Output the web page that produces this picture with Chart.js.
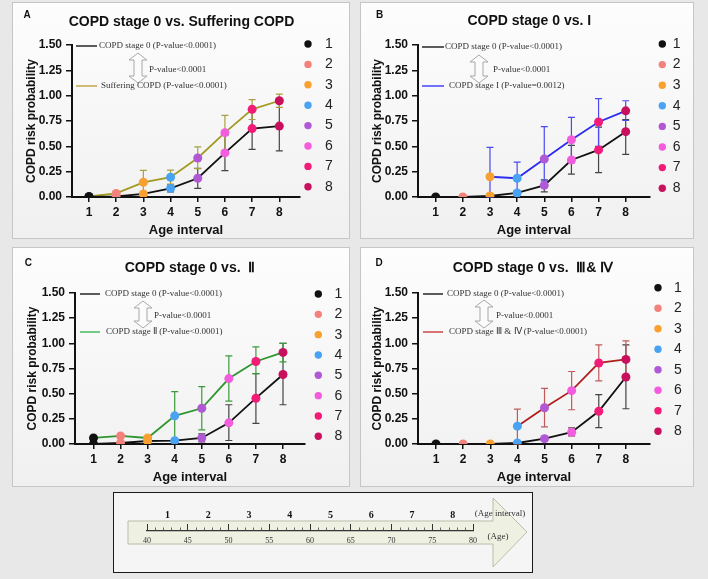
<!DOCTYPE html>
<html>
<head>
<meta charset="utf-8">
<script src="https://cdn.jsdelivr.net/npm/chart.js@4.4.0/dist/chart.umd.min.js"></script>
<style>
  body { margin: 0; width: 708px; height: 579px; overflow: hidden; position: relative; background: #e8e8e8; }
  .panel { position: absolute; box-sizing: border-box; border: 1px solid #c6c6c6; background: linear-gradient(#fdfdfd, #f0f0f0); }
  #scaleBox { position: absolute; box-sizing: border-box; left: 113px; top: 492px; width: 420px; height: 81px; border: 1.5px solid #1a1a1a; background: #f5f5f5; }
  canvas { position: absolute; }
</style>
</head>
<body>
<div class="panel" style="left:12px;top:2px;width:338px;height:237px"></div>
<div class="panel" style="left:360px;top:2px;width:334px;height:237px"></div>
<div class="panel" style="left:12px;top:247px;width:338px;height:240px"></div>
<div class="panel" style="left:360px;top:247px;width:334px;height:240px"></div>
<div id="scaleBox"></div>
<canvas id="chartA"></canvas>
<canvas id="chartB"></canvas>
<canvas id="chartC"></canvas>
<canvas id="chartD"></canvas>
<canvas id="scaleChart" width="420" height="81" style="left:113px;top:492px"></canvas>
<script>
// age intervals and their marker colours
const ageIntervals = [1, 2, 3, 4, 5, 6, 7, 8];
const intervalColors = ["#111111", "#f4827c", "#f8a030", "#4aa3f2", "#b158d4", "#f45cde", "#f31b78", "#c8105c"];
const yTicks = [0, 0.25, 0.5, 0.75, 1, 1.25, 1.5];

// A: stage 0 vs suffering COPD
const aStage0 = [0.00, 0.005, 0.03, 0.085, 0.185, 0.435, 0.675, 0.70];
const aStage0Low = [0.00, 0.00, 0.01, 0.05, 0.086, 0.26, 0.47, 0.455];
const aStage0High = [0.00, 0.01, 0.05, 0.12, 0.283, 0.61, 0.87, 0.93];
const aCopd = [0.005, 0.035, 0.145, 0.195, 0.385, 0.635, 0.865, 0.95];
const aCopdLow = [0.005, 0.02, 0.03, 0.128, 0.28, 0.46, 0.765, 0.885];
const aCopdHigh = [0.005, 0.05, 0.262, 0.266, 0.495, 0.805, 0.96, 1.015];

// B: stage 0 vs I
const bStage0 = [0.00, 0.00, 0.01, 0.04, 0.115, 0.365, 0.465, 0.645];
const bStage0Low = [0.00, 0.00, 0.00, 0.02, 0.05, 0.225, 0.24, 0.42];
const bStage0High = [0.00, 0.00, 0.03, 0.06, 0.17, 0.51, 0.69, 0.765];
const bStageI = [null, null, 0.20, 0.185, 0.375, 0.565, 0.74, 0.85];
const bStageILow = [null, null, 0.00, 0.03, 0.16, 0.34, 0.50, 0.755];
const bStageIHigh = [null, null, 0.49, 0.345, 0.695, 0.785, 0.97, 0.95];

// C: stage 0 vs II
const cStage0 = [0.00, 0.01, 0.03, 0.033, 0.06, 0.21, 0.455, 0.69];
const cStage0Low = [0.00, 0.00, 0.02, 0.02, 0.02, 0.035, 0.205, 0.39];
const cStage0High = [0.00, 0.02, 0.04, 0.05, 0.10, 0.39, 0.70, 1.00];
const cStageII = [0.06, 0.08, 0.06, 0.28, 0.355, 0.65, 0.82, 0.91];
const cStageIILow = [0.06, 0.08, 0.06, 0.03, 0.14, 0.425, 0.70, 0.815];
const cStageIIHigh = [0.06, 0.08, 0.06, 0.52, 0.57, 0.875, 0.965, 1.00];

// D: stage 0 vs III & IV
const dStage0 = [0.00, 0.00, 0.00, 0.01, 0.053, 0.117, 0.325, 0.665];
const dStage0Low = [0.00, 0.00, 0.00, 0.00, 0.03, 0.08, 0.163, 0.35];
const dStage0High = [0.00, 0.00, 0.00, 0.02, 0.075, 0.16, 0.49, 0.985];
const dStageIIIIV = [null, null, null, 0.177, 0.36, 0.53, 0.805, 0.84];
const dStageIIIIVLow = [null, null, null, 0.00, 0.17, 0.34, 0.627, 0.66];
const dStageIIIIVHigh = [null, null, null, 0.347, 0.553, 0.72, 0.985, 1.025];

// bottom age scale
const ageTicks = [40, 45, 50, 55, 60, 65, 70, 75, 80];

const SANS = "'Liberation Sans', Arial, sans-serif";
const SERIF = "'Liberation Serif', 'Times New Roman', serif";
Chart.defaults.font.family = SANS;
Chart.defaults.color = "#111";

function pts(vals) {
    return ageIntervals.map((x, i) => ({ x: x, y: vals[i] }));
}

const errorBars = {
    id: "errorBars",
    beforeDatasetsDraw(chart) {
        const { ctx, scales: { x, y } } = chart;
        chart.data.datasets.forEach(ds => {
            ctx.save();
            ctx.strokeStyle = ds.errColor;
            ctx.lineWidth = 1.2;
            ds.data.forEach((p, i) => {
                if (p.y == null || ds.errLow[i] == null) return;
                const px = x.getPixelForValue(p.x);
                const lo = y.getPixelForValue(ds.errLow[i]);
                const hi = y.getPixelForValue(ds.errHigh[i]);
                if (Math.abs(lo - hi) < 1) return;
                ctx.beginPath();
                ctx.moveTo(px, lo); ctx.lineTo(px, hi);
                ctx.moveTo(px - 3.5, lo); ctx.lineTo(px + 3.5, lo);
                ctx.moveTo(px - 3.5, hi); ctx.lineTo(px + 3.5, hi);
                ctx.stroke();
            });
            ctx.restore();
        });
    }
};

function doubleArrow(ctx, cx, top, bot) {
    const hw = 9, sw = 4, hh = 7;
    ctx.beginPath();
    ctx.moveTo(cx, top);
    ctx.lineTo(cx + hw, top + hh); ctx.lineTo(cx + sw, top + hh);
    ctx.lineTo(cx + sw, bot - hh); ctx.lineTo(cx + hw, bot - hh);
    ctx.lineTo(cx, bot);
    ctx.lineTo(cx - hw, bot - hh); ctx.lineTo(cx - sw, bot - hh);
    ctx.lineTo(cx - sw, top + hh); ctx.lineTo(cx - hw, top + hh);
    ctx.closePath();
    ctx.fillStyle = "#fbfbfb";
    ctx.fill();
    ctx.strokeStyle = "#a8a8a8";
    ctx.lineWidth = 1;
    ctx.stroke();
}

function makePanel(p) {
    const [ox, oy] = p.origin;
    const [W, H] = p.size;
    const [L, T, R, B] = p.area;
    const canvas = document.getElementById(p.id);
    canvas.width = W; canvas.height = H;
    canvas.style.left = ox + "px"; canvas.style.top = oy + "px";
    const yAxisW = 50, xAxisH = 42;

    const decor = {
        id: "decor",
        afterDraw(chart) {
            const ctx = chart.ctx;
            const a = chart.chartArea;
            ctx.save();
            ctx.textBaseline = "middle";
            ctx.fillStyle = "#111";
            ctx.textAlign = "center";
            ctx.font = "bold 14px " + SANS;
            ctx.fillText(p.title, p.titlePos[0] - ox, p.titlePos[1] - oy);
            ctx.font = "bold 10px " + SANS;
            ctx.fillText(p.letter, p.letterPos[0] - ox, p.letterPos[1] - oy);

            // interval legend
            ctx.font = "14px " + SANS;
            ageIntervals.forEach((v, i) => {
                const yy = p.legend.y0 - oy + i * p.legend.step;
                ctx.beginPath();
                ctx.arc(p.legend.dotX - ox, yy, 3.7, 0, Math.PI * 2);
                ctx.fillStyle = intervalColors[i];
                ctx.fill();
                ctx.fillStyle = "#222";
                ctx.fillText(String(v), p.legend.labelX - ox, yy);
            });

            // inset legend
            const s = p.inset;
            ctx.lineWidth = 1.6;
            ctx.strokeStyle = "#333";
            ctx.beginPath();
            ctx.moveTo(a.left + s.lx0, a.top + s.y1); ctx.lineTo(a.left + s.lx1, a.top + s.y1);
            ctx.stroke();
            ctx.strokeStyle = p.legendLine;
            ctx.beginPath();
            ctx.moveTo(a.left + s.lx0, a.top + s.y2); ctx.lineTo(a.left + s.lx1, a.top + s.y2);
            ctx.stroke();
            doubleArrow(ctx, a.left + s.ax, a.top + s.at, a.top + s.ab);
            ctx.fillStyle = "#333";
            ctx.textAlign = "left";
            ctx.font = "9px " + SERIF;
            ctx.fillText("COPD stage 0 (P-value<0.0001)", a.left + s.t1x, a.top + s.y1);
            ctx.fillText("P-value<0.0001", a.left + s.px, a.top + s.py);
            ctx.fillText(p.compText, a.left + s.t2x, a.top + s.y2);
            ctx.restore();
        }
    };

    new Chart(canvas, {
        type: "line",
        data: {
            datasets: [
                {
                    label: "COPD stage 0",
                    data: pts(p.stage0),
                    errLow: p.stage0Low, errHigh: p.stage0High, errColor: "#444",
                    borderColor: "#111", borderWidth: 1.8,
                    pointRadius: 4.5, pointBorderWidth: 0,
                    pointBackgroundColor: intervalColors
                },
                {
                    label: p.compLabel,
                    data: pts(p.comp),
                    errLow: p.compLow, errHigh: p.compHigh, errColor: p.errColor,
                    borderColor: p.color, borderWidth: 1.8,
                    pointRadius: 4.5, pointBorderWidth: 0,
                    pointBackgroundColor: intervalColors
                }
            ]
        },
        options: {
            responsive: false,
            animation: false,
            events: [],
            layout: {
                padding: { left: L - ox - yAxisW, right: ox + W - R, top: T - oy, bottom: oy + H - B - xAxisH }
            },
            plugins: { legend: { display: false }, tooltip: { enabled: false } },
            scales: {
                x: {
                    type: "linear",
                    min: p.xMin, max: p.xMax,
                    afterBuildTicks: s => { s.ticks = ageIntervals.map(v => ({ value: v })); },
                    afterFit: s => { s.height = xAxisH; },
                    grid: { drawOnChartArea: false, tickLength: 5, color: "#111", lineWidth: 1.5 },
                    border: { color: "#111", width: 2 },
                    ticks: { padding: 3, font: { size: 12, weight: "bold" }, color: "#111", maxRotation: 0, autoSkip: false },
                    title: { display: true, text: "Age interval", font: { size: 13, weight: "bold" }, color: "#111", padding: { top: 0, bottom: 1 } }
                },
                y: {
                    min: 0, max: 1.5,
                    afterBuildTicks: s => { s.ticks = yTicks.map(v => ({ value: v })); },
                    afterFit: s => { s.width = yAxisW; },
                    grid: { drawOnChartArea: false, tickLength: 6, color: "#111", lineWidth: 1.5 },
                    border: { color: "#111", width: 2 },
                    ticks: { padding: 4, font: { size: 12, weight: "bold" }, color: "#111", callback: v => v.toFixed(2) },
                    title: { display: true, text: "COPD risk probability", font: { size: 12, weight: "bold" }, color: "#111", padding: { top: p.yTitlePad, bottom: 0 } }
                }
            }
        },
        plugins: [errorBars, decor]
    });
}

makePanel({
    id: "chartA", origin: [12, 2], size: [338, 237], area: [72, 45, 300, 197],
    xMin: 0.375, xMax: 8.761, yTitlePad: 2.8,
    title: "COPD stage 0 vs. Suffering COPD", titlePos: [181.5, 21.7], letter: "A", letterPos: [27, 15],
    stage0: aStage0, stage0Low: aStage0Low, stage0High: aStage0High,
    comp: aCopd, compLow: aCopdLow, compHigh: aCopdHigh, compLabel: "Suffering COPD",
    color: "#a39a22", errColor: "#a8a040", legendLine: "#c9aa55",
    compText: "Suffering COPD (P-value<0.0001)",
    legend: { dotX: 308, labelX: 329, y0: 44, step: 20.4 },
    inset: { lx0: 4, lx1: 25, y1: 1, t1x: 27, ax: 66, at: 8, ab: 38, px: 77, py: 25, y2: 41, t2x: 29 }
});

makePanel({
    id: "chartB", origin: [360, 2], size: [334, 237], area: [418, 45, 650, 197],
    xMin: 0.348, xMax: 8.895, yTitlePad: 2.1,
    title: "COPD stage 0 vs. I", titlePos: [529.3, 20.7], letter: "B", letterPos: [379.7, 15],
    stage0: bStage0, stage0Low: bStage0Low, stage0High: bStage0High,
    comp: bStageI, compLow: bStageILow, compHigh: bStageIHigh, compLabel: "COPD stage I",
    color: "#2b2bf2", errColor: "#4a4af0", legendLine: "#4f4fff",
    compText: "COPD stage I (P-value=0.0012)",
    legend: { dotX: 662.3, labelX: 676.7, y0: 44, step: 20.6 },
    inset: { lx0: 4, lx1: 26, y1: 2, t1x: 27, ax: 61, at: 10, ab: 38, px: 75, py: 25, y2: 41, t2x: 31 }
});

makePanel({
    id: "chartC", origin: [12, 247], size: [338, 240], area: [75, 293, 305, 444],
    xMin: 0.317, xMax: 8.813, yTitlePad: 0.8,
    title: "COPD stage 0 vs.  \u2161", titlePos: [190, 268.3], letter: "C", letterPos: [28.3, 263.3],
    stage0: cStage0, stage0Low: cStage0Low, stage0High: cStage0High,
    comp: cStageII, compLow: cStageIILow, compHigh: cStageIIHigh, compLabel: "COPD stage II",
    color: "#2e962e", errColor: "#3c9a3c", legendLine: "#52c06c",
    compText: "COPD stage \u2161 (P-value<0.0001)",
    legend: { dotX: 318.3, labelX: 338.3, y0: 294, step: 20.33 },
    inset: { lx0: 5, lx1: 25, y1: 1, t1x: 30, ax: 68, at: 8, ab: 35, px: 79, py: 23, y2: 39, t2x: 31 }
});

makePanel({
    id: "chartD", origin: [360, 247], size: [334, 240], area: [418, 293, 650, 444],
    xMin: 0.337, xMax: 8.888, yTitlePad: 2.1,
    title: "COPD stage 0 vs.  \u2162& \u2163", titlePos: [533, 268.3], letter: "D", letterPos: [379, 263],
    stage0: dStage0, stage0Low: dStage0Low, stage0High: dStage0High,
    comp: dStageIIIIV, compLow: dStageIIIIVLow, compHigh: dStageIIIIVHigh, compLabel: "COPD stage III & IV",
    color: "#b01e1e", errColor: "#c05a5a", legendLine: "#d05050",
    compText: "COPD stage \u2162 & \u2163 (P-value<0.0001)",
    legend: { dotX: 658, labelX: 678, y0: 287.7, step: 20.5 },
    inset: { lx0: 5, lx1: 25, y1: 1, t1x: 29, ax: 66, at: 7, ab: 35, px: 78, py: 23, y2: 39, t2x: 31 }
});

// bottom: age interval <-> age scale
const intervalMids = ageTicks.slice(1).map((v, i) => (v + ageTicks[i]) / 2);

const ageArrow = {
    id: "ageArrow",
    beforeDraw(chart) {
        const ctx = chart.ctx;
        ctx.save();
        ctx.beginPath();
        ctx.moveTo(15, 29); ctx.lineTo(380, 29); ctx.lineTo(380, 6); ctx.lineTo(414, 40);
        ctx.lineTo(380, 75); ctx.lineTo(380, 52); ctx.lineTo(15, 52);
        ctx.closePath();
        ctx.fillStyle = "#eef1e2";
        ctx.fill();
        ctx.strokeStyle = "#b9bda8";
        ctx.lineWidth = 1;
        ctx.stroke();
        ctx.restore();
    },
    afterDraw(chart) {
        const ctx = chart.ctx;
        const x = chart.scales.x;
        const a = chart.chartArea;
        ctx.save();
        ctx.strokeStyle = "#444";
        ctx.lineWidth = 0.8;
        for (let v = ageTicks[0] + 1; v < ageTicks[ageTicks.length - 1]; v++) {
            if (ageTicks.includes(v)) continue;
            const px = Math.round(x.getPixelForValue(v)) + 0.5;
            ctx.beginPath();
            ctx.moveTo(px, a.bottom); ctx.lineTo(px, a.bottom - 3.5);
            ctx.stroke();
        }
        ctx.fillStyle = "#333";
        ctx.font = "9px " + SERIF;
        ctx.textAlign = "center";
        ctx.textBaseline = "middle";
        ctx.fillText("(Age interval)", 387, 22);
        ctx.fillText("(Age)", 385, 45);
        ctx.restore();
    }
};

new Chart(document.getElementById("scaleChart"), {
    type: "scatter",
    data: { datasets: [] },
    options: {
        responsive: false,
        animation: false,
        events: [],
        layout: { padding: { left: 34, right: 60, top: 12, bottom: 22 } },
        plugins: { legend: { display: false }, tooltip: { enabled: false } },
        scales: {
            x: {
                type: "linear", position: "bottom", min: 40, max: 80,
                afterBuildTicks: s => { s.ticks = ageTicks.map(v => ({ value: v })); },
                afterFit: s => { s.height = 20; },
                grid: { drawOnChartArea: true, drawTicks: false, color: "#333", lineWidth: 1 },
                border: { display: true, color: "#333", width: 1.2 },
                ticks: { padding: 5, font: { family: SERIF, size: 8 }, color: "#333", maxRotation: 0, autoSkip: false }
            },
            xTop: {
                type: "linear", position: "top", min: 40, max: 80,
                afterBuildTicks: s => { s.ticks = intervalMids.map(v => ({ value: v })); },
                afterFit: s => { s.height = 20; },
                grid: { display: false, drawTicks: false },
                border: { display: false },
                ticks: { padding: 3, font: { family: SERIF, size: 10, weight: "bold" }, color: "#111", maxRotation: 0, autoSkip: false,
                         callback: (v, i) => String(ageIntervals[i]) }
            },
            y: { display: false, min: 0, max: 1 }
        }
    },
    plugins: [ageArrow]
});
</script>
</body>
</html>
